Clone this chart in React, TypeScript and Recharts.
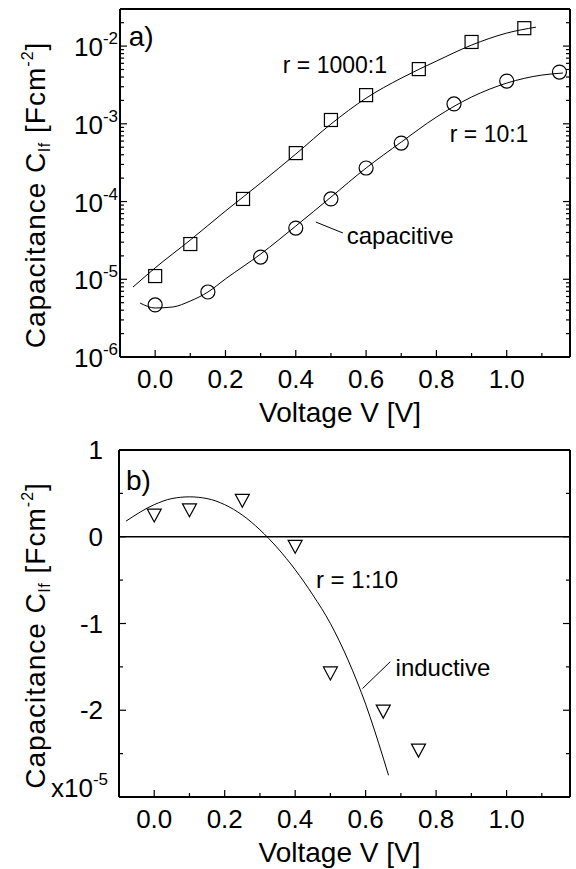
import React from "react";
import {
  ComposedChart,
  Line,
  Scatter,
  XAxis,
  YAxis,
  ReferenceLine,
  ReferenceDot,
} from "recharts";

const FONT = '"Liberation Sans", Arial, sans-serif';

// panel a) – capacitive, log scale
const squareV = [0, 0.1, 0.25, 0.4, 0.5, 0.6, 0.75, 0.9, 1.05];
const squareC = [1.1e-5, 2.84e-5, 1.08e-4, 4.2e-4, 1.12e-3, 2.34e-3, 5.06e-3, 1.13e-2, 1.7e-2];
const circleV = [0, 0.15, 0.3, 0.4, 0.5, 0.6, 0.7, 0.85, 1.0, 1.15];
const circleC = [4.67e-6, 6.86e-6, 1.93e-5, 4.56e-5, 1.08e-4, 2.7e-4, 5.65e-4, 1.8e-3, 3.55e-3, 4.63e-3];
const fit1000V = [-0.063, 0, 0.1, 0.2, 0.3, 0.4, 0.5, 0.6, 0.7, 0.8, 0.9, 1.0, 1.083];
const fit1000C = [7.94e-6, 1.4e-5, 3.2e-5, 7.55e-5, 1.73e-4, 4.08e-4, 9.93e-4, 2.14e-3, 3.87e-3, 6.41e-3, 1.03e-2, 1.47e-2, 1.75e-2];
const fit10V = [-0.043, 0, 0.05, 0.1, 0.15, 0.2, 0.3, 0.4, 0.5, 0.6, 0.7, 0.8, 0.9, 1.0, 1.1, 1.16];
const fit10C = [4.95e-6, 4.27e-6, 4.4e-6, 5.25e-6, 6.85e-6, 1.01e-5, 2.11e-5, 4.84e-5, 1.14e-4, 2.7e-4, 5.82e-4, 1.22e-3, 2.21e-3, 3.34e-3, 4.24e-3, 4.5e-3];

// panel b) – inductive, linear, x1e-5
const triV = [0, 0.1, 0.25, 0.4, 0.5, 0.65, 0.75];
const triC = [0.25, 0.31, 0.42, -0.11, -1.57, -2.01, -2.46];
const fitIndV = [-0.08, 0, 0.05, 0.1, 0.15, 0.2, 0.25, 0.3, 0.35, 0.4, 0.45, 0.5, 0.55, 0.6, 0.65, 0.665];
const fitIndC = [0.18, 0.37, 0.44, 0.46, 0.44, 0.37, 0.25, 0.08, -0.13, -0.38, -0.67, -1.0, -1.42, -1.93, -2.55, -2.75];

// axes
const xDomain = [-0.1, 1.18];
const xTicks = [0, 0.1, 0.2, 0.3, 0.4, 0.5, 0.6, 0.7, 0.8, 0.9, 1.0, 1.1];
const xLabeled = [0, 0.2, 0.4, 0.6, 0.8, 1.0];
const decades = [1e-6, 1e-5, 1e-4, 1e-3, 1e-2];
const minorMult = [2, 3, 4, 5, 6, 7, 8, 9];
const logTicks = decades
  .flatMap((d) => [d, ...minorMult.map((m) => m * d)])
  .filter((t) => t < 2.9e-2);
const linTicks = [-3, -2.5, -2, -1.5, -1, -0.5, 0, 0.5, 1];

// annotations (text anchored at baseline start)
const notesA = [
  { text: "a)", v: -0.075, c: 1.0e-2, size: 28 },
  { text: "r = 1000:1", v: 0.363, c: 4.5e-3, size: 23 },
  { text: "r = 10:1", v: 0.838, c: 5.8e-4, size: 23 },
  { text: "capacitive", v: 0.545, c: 2.84e-5, size: 24 },
];
const notesB = [
  { text: "b)", v: -0.08, c: 0.54, size: 28 },
  { text: "r = 1:10", v: 0.459, c: -0.595, size: 24 },
  { text: "inductive", v: 0.685, c: -1.6, size: 24 },
];
const leaderA = [{ v: 0.457, c: 5.45e-5 }, { v: 0.534, c: 3.94e-5 }];
const leaderB = [{ v: 0.591, c: -1.75 }, { v: 0.67, c: -1.44 }];

const zip = (vs: number[], cs: number[]) => vs.map((v, i) => ({ v, c: cs[i] }));
const squares = zip(squareV, squareC);
const circles = zip(circleV, circleC);
const fit1000 = zip(fit1000V, fit1000C);
const fit10 = zip(fit10V, fit10C);
const triangles = zip(triV, triC);
const fitInd = zip(fitIndV, fitIndC);

const near = (a: number, b: number) => Math.abs(a - b) < 1e-6 * Math.max(1e-9, Math.abs(b)) + 1e-9;

const LogLeftTick = (p: any) => {
  const { x, y, payload } = p;
  const val = payload.value;
  const major = decades.some((d) => near(val, d));
  const exp = Math.round(Math.log10(val));
  return (
    <g>
      <line x1={x} x2={x + (major ? 7 : 4)} y1={y} y2={y} stroke="#000" strokeWidth={1.2} />
      {major && (
        <text x={x - 2} y={y + 10} textAnchor="end" fontSize={26} fontFamily={FONT} fill="#000">
          10
          <tspan fontSize={17} dy={-12}>{`${exp}`}</tspan>
        </text>
      )}
    </g>
  );
};

const LogRightTick = (p: any) => {
  const { x, y, payload } = p;
  const major = decades.some((d) => near(payload.value, d));
  return <line x1={x} x2={x - (major ? 7 : 4)} y1={y} y2={y} stroke="#000" strokeWidth={1.2} />;
};

const LinLeftTick = (p: any) => {
  const { x, y, payload } = p;
  const val = payload.value;
  const major = Number.isInteger(val);
  return (
    <g>
      <line x1={x} x2={x + (major ? 7 : 4)} y1={y} y2={y} stroke="#000" strokeWidth={1.2} />
      {major && val !== -3 && (
        <text x={x - 16} y={y + 9} textAnchor="end" fontSize={26} fontFamily={FONT} fill="#000">
          {`${val}`}
        </text>
      )}
      {val === -3 && (
        <text x={x - 11} y={y} textAnchor="end" fontSize={26} fontFamily={FONT} fill="#000">
          x10
          <tspan fontSize={17} dy={-12}>-5</tspan>
        </text>
      )}
    </g>
  );
};

const LinRightTick = (p: any) => {
  const { x, y, payload } = p;
  const major = Number.isInteger(payload.value);
  return <line x1={x} x2={x - (major ? 7 : 4)} y1={y} y2={y} stroke="#000" strokeWidth={1.2} />;
};

const BottomTick = (p: any) => {
  const { x, y, payload } = p;
  const val = payload.value;
  const major = xLabeled.some((l) => near(val, l));
  return (
    <g>
      <line x1={x} x2={x} y1={y} y2={y - (major ? 7 : 4)} stroke="#000" strokeWidth={1.2} />
      {major && (
        <text x={x} y={y + 31} textAnchor="middle" fontSize={26} fontFamily={FONT} fill="#000">
          {val.toFixed(1)}
        </text>
      )}
    </g>
  );
};

const TopTick = (p: any) => {
  const { x, y, payload } = p;
  const major = xLabeled.some((l) => near(payload.value, l));
  return <line x1={x} x2={x} y1={y} y2={y + (major ? 7 : 4)} stroke="#000" strokeWidth={1.2} />;
};

const XTitle = (p: any) => {
  const { viewBox } = p;
  return (
    <text
      x={viewBox.x + viewBox.width / 2 - 5}
      y={viewBox.y + 65}
      textAnchor="middle"
      fontSize={28}
      fontFamily={FONT}
      fill="#000"
    >
      Voltage V [V]
    </text>
  );
};

const YTitle = (p: any) => {
  const { viewBox } = p;
  const cx = 45;
  const cy = viewBox.y + viewBox.height / 2 + 12;
  return (
    <text
      transform={`translate(${cx},${cy}) rotate(-90)`}
      textAnchor="middle"
      fontSize={28}
      letterSpacing={1}
      fontFamily={FONT}
      fill="#000"
    >
      Capacitance C
      <tspan fontSize={16} dy={5}>lf</tspan>
      <tspan dy={-5}> [Fcm</tspan>
      <tspan fontSize={16} dy={-12}>-2</tspan>
      <tspan dy={12}>]</tspan>
    </text>
  );
};

const Note = (p: any) => {
  const { viewBox, text, size } = p;
  return (
    <text
      x={viewBox.x + viewBox.width / 2}
      y={viewBox.y + viewBox.height / 2}
      fontSize={size}
      fontFamily={FONT}
      fill="#000"
    >
      {text}
    </text>
  );
};

const squareShape = (p: any) => (
  <rect x={p.cx - 6.5} y={p.cy - 6.5} width={13} height={13} fill="none" stroke="#000" strokeWidth={1.2} />
);
const circleShape = (p: any) => (
  <circle cx={p.cx} cy={p.cy} r={7} fill="none" stroke="#000" strokeWidth={1.2} />
);
const triShape = (p: any) => (
  <path
    d={`M${p.cx - 7},${p.cy - 6} L${p.cx + 7},${p.cy - 6} L${p.cx},${p.cy + 7} Z`}
    fill="none"
    stroke="#000"
    strokeWidth={1.2}
  />
);

const frame = { stroke: "#000", strokeWidth: 2 };

function PanelA() {
  return (
    <ComposedChart width={576} height={430} margin={{ top: 0, right: 0, bottom: 0, left: 0 }}>
      <XAxis
        type="number"
        dataKey="v"
        domain={xDomain}
        ticks={xTicks}
        interval={0}
        allowDataOverflow
        height={73}
        axisLine={frame}
        tickLine={false}
        tickSize={0}
        tickMargin={0}
        tick={<BottomTick />}
        label={<XTitle />}
      />
      <XAxis
        xAxisId="top"
        orientation="top"
        type="number"
        domain={xDomain}
        ticks={xTicks}
        interval={0}
        allowDataOverflow
        height={9}
        axisLine={frame}
        tickLine={false}
        tickSize={0}
        tickMargin={0}
        tick={<TopTick />}
      />
      <YAxis
        type="number"
        dataKey="c"
        scale="log"
        domain={[1e-6, 3e-2]}
        ticks={logTicks}
        interval={0}
        allowDataOverflow
        width={120}
        axisLine={frame}
        tickLine={false}
        tickSize={0}
        tickMargin={0}
        tick={<LogLeftTick />}
        label={<YTitle />}
      />
      <YAxis
        yAxisId="right"
        orientation="right"
        type="number"
        scale="log"
        domain={[1e-6, 3e-2]}
        ticks={logTicks}
        interval={0}
        allowDataOverflow
        width={6}
        axisLine={frame}
        tickLine={false}
        tickSize={0}
        tickMargin={0}
        tick={<LogRightTick />}
      />
      <Line data={fit1000} dataKey="c" type="monotone" stroke="#000" strokeWidth={1} dot={false} activeDot={false} isAnimationActive={false} />
      <Line data={fit10} dataKey="c" type="monotone" stroke="#000" strokeWidth={1} dot={false} activeDot={false} isAnimationActive={false} />
      <Scatter data={squares} shape={squareShape} isAnimationActive={false} />
      <Scatter data={circles} shape={circleShape} isAnimationActive={false} />
      <ReferenceLine
        segment={[{ x: leaderA[0].v, y: leaderA[0].c }, { x: leaderA[1].v, y: leaderA[1].c }]}
        stroke="#000"
        strokeWidth={1}
      />
      {notesA.map((n) => (
        <ReferenceDot
          key={n.text}
          x={n.v}
          y={n.c}
          r={1}
          fill="none"
          stroke="none"
          label={<Note text={n.text} size={n.size} />}
        />
      ))}
    </ComposedChart>
  );
}

function PanelB() {
  return (
    <ComposedChart width={576} height={439} margin={{ top: 0, right: 0, bottom: 0, left: 0 }}>
      <XAxis
        type="number"
        dataKey="v"
        domain={xDomain}
        ticks={xTicks}
        interval={0}
        allowDataOverflow
        height={72}
        axisLine={frame}
        tickLine={false}
        tickSize={0}
        tickMargin={0}
        tick={<BottomTick />}
        label={<XTitle />}
      />
      <XAxis
        xAxisId="top"
        orientation="top"
        type="number"
        domain={xDomain}
        ticks={xTicks}
        interval={0}
        allowDataOverflow
        height={20}
        axisLine={frame}
        tickLine={false}
        tickSize={0}
        tickMargin={0}
        tick={<TopTick />}
      />
      <YAxis
        type="number"
        dataKey="c"
        domain={[-3, 1]}
        ticks={linTicks}
        interval={0}
        allowDataOverflow
        width={119}
        axisLine={frame}
        tickLine={false}
        tickSize={0}
        tickMargin={0}
        tick={<LinLeftTick />}
        label={<YTitle />}
      />
      <YAxis
        yAxisId="right"
        orientation="right"
        type="number"
        domain={[-3, 1]}
        ticks={linTicks}
        interval={0}
        allowDataOverflow
        width={6}
        axisLine={frame}
        tickLine={false}
        tickSize={0}
        tickMargin={0}
        tick={<LinRightTick />}
      />
      <ReferenceLine y={0} stroke="#000" strokeWidth={1.6} />
      <Line data={fitInd} dataKey="c" type="monotone" stroke="#000" strokeWidth={1} dot={false} activeDot={false} isAnimationActive={false} />
      <Scatter data={triangles} shape={triShape} isAnimationActive={false} />
      <ReferenceLine
        segment={[{ x: leaderB[0].v, y: leaderB[0].c }, { x: leaderB[1].v, y: leaderB[1].c }]}
        stroke="#000"
        strokeWidth={1}
      />
      {notesB.map((n) => (
        <ReferenceDot
          key={n.text}
          x={n.v}
          y={n.c}
          r={1}
          fill="none"
          stroke="none"
          label={<Note text={n.text} size={n.size} />}
        />
      ))}
    </ComposedChart>
  );
}

export default function App() {
  return (
    <div style={{ position: "absolute", left: 0, top: 0, width: 576, height: 869, background: "#fff" }}>
      <PanelA />
      <PanelB />
    </div>
  );
}
